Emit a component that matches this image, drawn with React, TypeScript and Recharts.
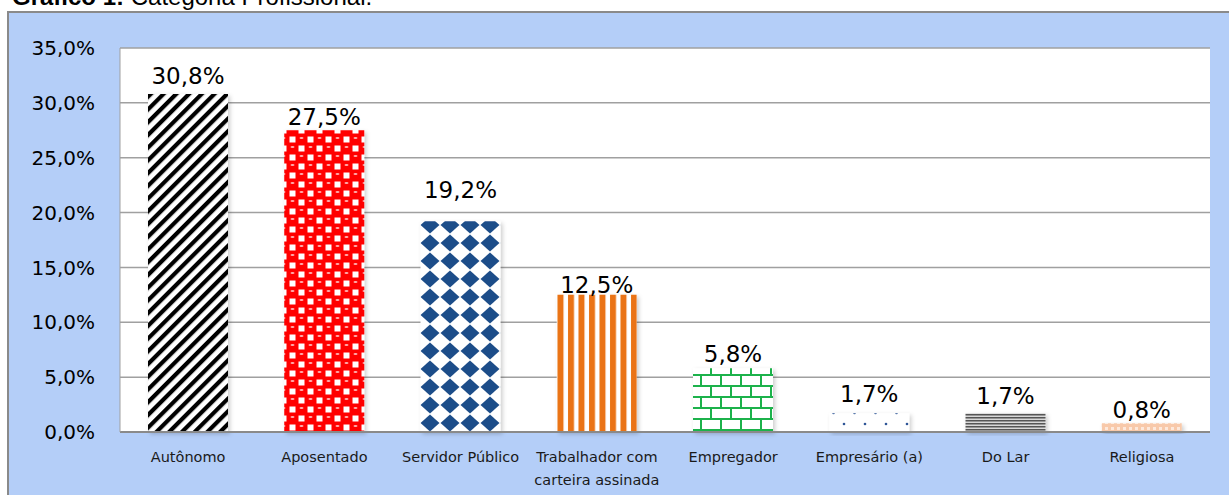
import React from 'react';
import { BarChart, Bar, XAxis, YAxis, CartesianGrid, Cell, LabelList } from 'recharts';

const categories = [
  'Autônomo',
  'Aposentado',
  'Servidor Público',
  'Trabalhador com\ncarteira assinada',
  'Empregador',
  'Empresário (a)',
  'Do Lar',
  'Religiosa',
];
const percentages = [30.8, 27.5, 19.2, 12.5, 5.8, 1.7, 1.7, 0.8];
const yTicks = [0, 5, 10, 15, 20, 25, 30, 35];

// label lift above each bar top (Excel placed them by hand)
const labelLift = [10, 5, 23, 2, 6, 11, 9, 5];

const data = categories.map((name, i) => ({ name, value: percentages[i] }));

const fmt = (v: number) => v.toFixed(1).replace('.', ',') + '%';
const FONT = "'DejaVu Sans', Verdana, sans-serif";

const XTick = (props: any) => {
  const { x, y, payload } = props;
  const lines = String(payload.value).split('\n');
  return (
    <text x={x} y={y} textAnchor="middle" fontFamily={FONT} fontSize={14.5} fill="#1a1a1a">
      {lines.map((l, i) => (
        <tspan key={i} x={x} dy={i === 0 ? 11 : 23}>{l}</tspan>
      ))}
    </text>
  );
};

const ValueLabel = (props: any) => {
  const { x, y, width, value, index } = props;
  return (
    <text x={x + width / 2} y={y - labelLift[index]} textAnchor="middle" fontFamily={FONT} fontSize={23} fill="#000">
      {fmt(value)}
    </text>
  );
};

const App: React.FC = () => {
  return (
    <div style={{ position: 'relative', width: 1229, height: 495, background: '#fff', overflow: 'hidden' }}>
      <style>{`body{margin:0}`}</style>
      <div
        style={{
          position: 'absolute', left: 7, top: 11, width: 1240, height: 500,
          background: '#b4cef8', borderLeft: '2px solid #8a8a8a', borderTop: '2px solid #8a8a8a',
        }}
      />
      <svg width={1229} height={30} style={{ position: 'absolute', left: 0, top: 0 }}>
        <text x={12} y={5} fontFamily="'Liberation Sans', Arial, sans-serif" fontSize={24} fill="#000">
          <tspan fontWeight="bold">Gráfico 1:</tspan>
          <tspan> Categoria Profissional.</tspan>
        </text>
      </svg>
      <div style={{ position: 'absolute', left: 0, top: 0 }}>
        <BarChart width={1229} height={495} data={data} margin={{ top: 48, right: 19, bottom: 0, left: 0 }}>
          <defs>
            <filter id="shadow" x="-10%" y="-10%" width="130%" height="130%">
              <feDropShadow dx="2" dy="2" stdDeviation="2" floodColor="#000" floodOpacity="0.2" />
            </filter>
            <pattern id="p0" width="9" height="9" patternUnits="userSpaceOnUse" patternTransform="rotate(45)">
              <rect width="9" height="9" fill="#fff" />
              <rect width="4.2" height="9" fill="#000" />
            </pattern>
            <pattern id="p1" width="18" height="18" patternUnits="userSpaceOnUse">
              <rect width="18" height="18" fill="#ff0000" />
              <rect x="10.5" y="1.5" width="6" height="6" fill="#fff" />
              <rect x="1.5" y="10.5" width="6" height="6" fill="#fff" />
              <ellipse cx="4.5" cy="3" rx="2" ry="0.9" fill="#ffb0b0" />
              <ellipse cx="13.5" cy="12" rx="2" ry="0.9" fill="#ffb0b0" />
            </pattern>
            <pattern id="p2" width="20" height="18" patternUnits="userSpaceOnUse">
              <rect width="20" height="18" fill="#fff" />
              <polygon points="10,0.5 19.5,9 10,17.5 0.5,9" fill="#1f4e89" />
            </pattern>
            <pattern id="p3" width="10.5" height="10" patternUnits="userSpaceOnUse">
              <rect width="10.5" height="10" fill="#fff" />
              <rect x="1" width="6" height="10" fill="#ea7314" />
            </pattern>
            <pattern id="p4" width="20" height="22" patternUnits="userSpaceOnUse">
              <rect width="20" height="22" fill="#fff" />
              <rect x="0" y="0" width="20" height="2" fill="#1eb24b" />
              <rect x="0" y="11" width="20" height="2" fill="#1eb24b" />
              <rect x="0" y="0" width="2" height="11" fill="#1eb24b" />
              <rect x="10" y="11" width="2" height="11" fill="#1eb24b" />
            </pattern>
            <pattern id="p5" width="21" height="22" patternUnits="userSpaceOnUse">
              <rect width="21" height="22" fill="#fff" />
              <circle cx="4" cy="6" r="1.3" fill="#2f5597" />
              <circle cx="14.5" cy="17" r="1.3" fill="#2f5597" />
            </pattern>
            <pattern id="p6" width="10" height="3" patternUnits="userSpaceOnUse">
              <rect width="10" height="3" fill="#d8d8d8" />
              <rect y="0" width="10" height="1.5" fill="#555" />
            </pattern>
            <pattern id="p7" width="6" height="6" patternUnits="userSpaceOnUse">
              <rect width="6" height="6" fill="#f8c9aa" />
              <rect x="1" y="1" width="3" height="3" fill="#fde9dc" />
            </pattern>
          </defs>
          <CartesianGrid vertical={false} stroke="#a0a0a0" strokeWidth={1.5} fill="#fff" fillOpacity={1} />
          <XAxis
            dataKey="name"
            height={63}
            interval={0}
            tick={<XTick />}
            tickLine={false}
            tickSize={0}
            tickMargin={19}
            axisLine={{ stroke: '#8a8a8a', strokeWidth: 2 }}
          />
          <YAxis
            width={120}
            domain={[0, 35]}
            ticks={yTicks}
            tickFormatter={fmt}
            tickLine={false}
            tickSize={0}
            tickMargin={25}
            axisLine={{ stroke: '#a0a0a0', strokeWidth: 1 }}
            tick={{ fontFamily: FONT, fontSize: 20, fill: '#000' }}
          />
          <Bar dataKey="value" barSize={80} isAnimationActive={false} filter="url(#shadow)">
            {data.map((_, i) => (
              <Cell key={i} fill={`url(#p${i})`} />
            ))}
            <LabelList dataKey="value" content={<ValueLabel />} />
          </Bar>
        </BarChart>
      </div>
    </div>
  );
};

export default App;
